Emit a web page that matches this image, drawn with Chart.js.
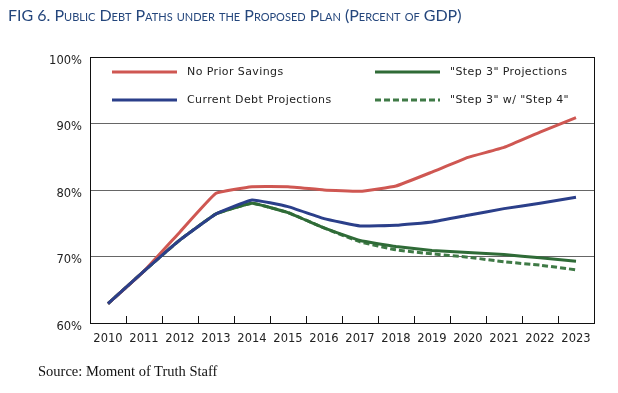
<!DOCTYPE html>
<html>
<head>
<meta charset="utf-8">
<script src="https://cdn.jsdelivr.net/npm/chart.js@4/dist/chart.umd.min.js"></script>
<style>
    body { margin: 0; background: #fff; }
    #wrap { position: relative; width: 618px; height: 393px; }
    #titulo {
        position: absolute; left: 8px; top: 5px;
        font-family: Lato, sans-serif; font-size: 16px; font-variant: small-caps;
        color: #24467c; white-space: nowrap;
    }
    #fuente {
        position: absolute; left: 38px; top: 363px;
        font-family: "Liberation Serif", serif; font-size: 14.5px; color: #111;
    }
    canvas { position: absolute; left: 0; top: 0; }
</style>
</head>
<body>
<div id="wrap">
    <canvas id="grafico" width="618" height="393"></canvas>
    <div id="titulo">FIG 6. Public Debt Paths under the Proposed Plan (Percent of GDP)</div>
    <div id="fuente">Source: Moment of Truth Staff</div>
</div>
<script>
const years = ['2010', '2011', '2012', '2013', '2014', '2015', '2016', '2017', '2018', '2019', '2020', '2021', '2022', '2023'];
const noPriorSavings = [62.9, 67.8, 73.7, 79.5, 80.5, 80.5, 80.0, 79.8, 80.6, 82.7, 84.9, 86.4, 88.7, 90.9];
const currentDebt = [62.9, 67.8, 72.5, 76.4, 78.5, 77.5, 75.7, 74.6, 74.7, 75.2, 76.2, 77.2, 78.0, 78.9];
const step3 = [62.9, 67.8, 72.5, 76.4, 78.0, 76.6, 74.3, 72.4, 71.5, 70.9, 70.6, 70.3, 69.8, 69.3];
const step3Step4 = [62.9, 67.8, 72.5, 76.4, 78.0, 76.6, 74.3, 72.2, 71.0, 70.4, 69.9, 69.2, 68.7, 68.0];
const yTicks = [60, 70, 80, 90, 100];

const fuenteEjes = { family: 'DejaVu Sans', size: 11.5 };

// leyenda dentro del area del grafico: [dataset, x linea, y]
const leyenda = [
    [0, 112, 72],
    [1, 112, 100],
    [2, 375, 72],
    [3, 375, 100]
];

const cajaYMarcas = {
    id: 'cajaYMarcas',
    afterDatasetsDraw(chart) {
        const ctx = chart.ctx;
        const a = chart.chartArea;
        const x = chart.scales.x;
        ctx.save();
        // marcas del eje x hacia dentro
        ctx.strokeStyle = '#111';
        ctx.lineWidth = 1;
        for (let i = 1; i < years.length; i++) {
            const px = Math.round((x.getPixelForValue(i - 1) + x.getPixelForValue(i)) / 2) + 0.5;
            ctx.beginPath();
            ctx.moveTo(px, a.bottom);
            ctx.lineTo(px, a.bottom - 7);
            ctx.stroke();
        }
        ctx.strokeRect(Math.round(a.left) + 0.5, Math.round(a.top) + 0.5, Math.round(a.width), Math.round(a.height));

        // leyenda
        ctx.font = '11px "DejaVu Sans"';
        ctx.letterSpacing = '0.4px';
        ctx.textBaseline = 'middle';
        ctx.fillStyle = '#222';
        leyenda.forEach(([i, lx, ly]) => {
            const ds = chart.data.datasets[i];
            ctx.strokeStyle = ds.borderColor;
            ctx.lineWidth = 3;
            ctx.setLineDash(ds.borderDash || []);
            ctx.beginPath();
            ctx.moveTo(lx, ly);
            ctx.lineTo(lx + 65, ly);
            ctx.stroke();
            ctx.setLineDash([]);
            ctx.fillText(ds.label, lx + 75, ly);
        });
        ctx.restore();
    }
};

new Chart(document.getElementById('grafico').getContext('2d'), {
    type: 'line',
    data: {
        labels: years,
        datasets: [
            { label: 'No Prior Savings', data: noPriorSavings, borderColor: '#cf5752', order: 1 },
            { label: 'Current Debt Projections', data: currentDebt, borderColor: '#2b3f8a', order: 0 },
            { label: '"Step 3" Projections', data: step3, borderColor: '#2f6b37', order: 2 },
            { label: '"Step 3" w/ "Step 4"', data: step3Step4, borderColor: '#3f7a46', borderDash: [6, 3], order: 3 }
        ]
    },
    options: {
        responsive: false,
        animation: false,
        layout: { padding: { top: 57, right: 24, left: 0, bottom: 0 } },
        elements: {
            point: { radius: 0 },
            line: { borderWidth: 3, tension: 0.1 }
        },
        plugins: {
            legend: { display: false },
            tooltip: { enabled: false }
        },
        scales: {
            x: {
                offset: true,
                grid: { display: false },
                border: { display: false },
                ticks: { color: '#222', font: fuenteEjes, padding: 1, maxRotation: 0, autoSkip: false },
                afterFit(s) { s.height = 70; }
            },
            y: {
                min: 60,
                max: 100,
                afterBuildTicks(s) { s.ticks = yTicks.map(v => ({ value: v })); },
                grid: { color: '#666', lineWidth: 1, drawTicks: false },
                border: { display: false },
                ticks: { color: '#222', font: fuenteEjes, padding: 8, labelOffset: 4, callback: v => v + '%' },
                afterFit(s) { s.width = 90; }
            }
        }
    },
    plugins: [cajaYMarcas]
});
</script>
</body>
</html>
